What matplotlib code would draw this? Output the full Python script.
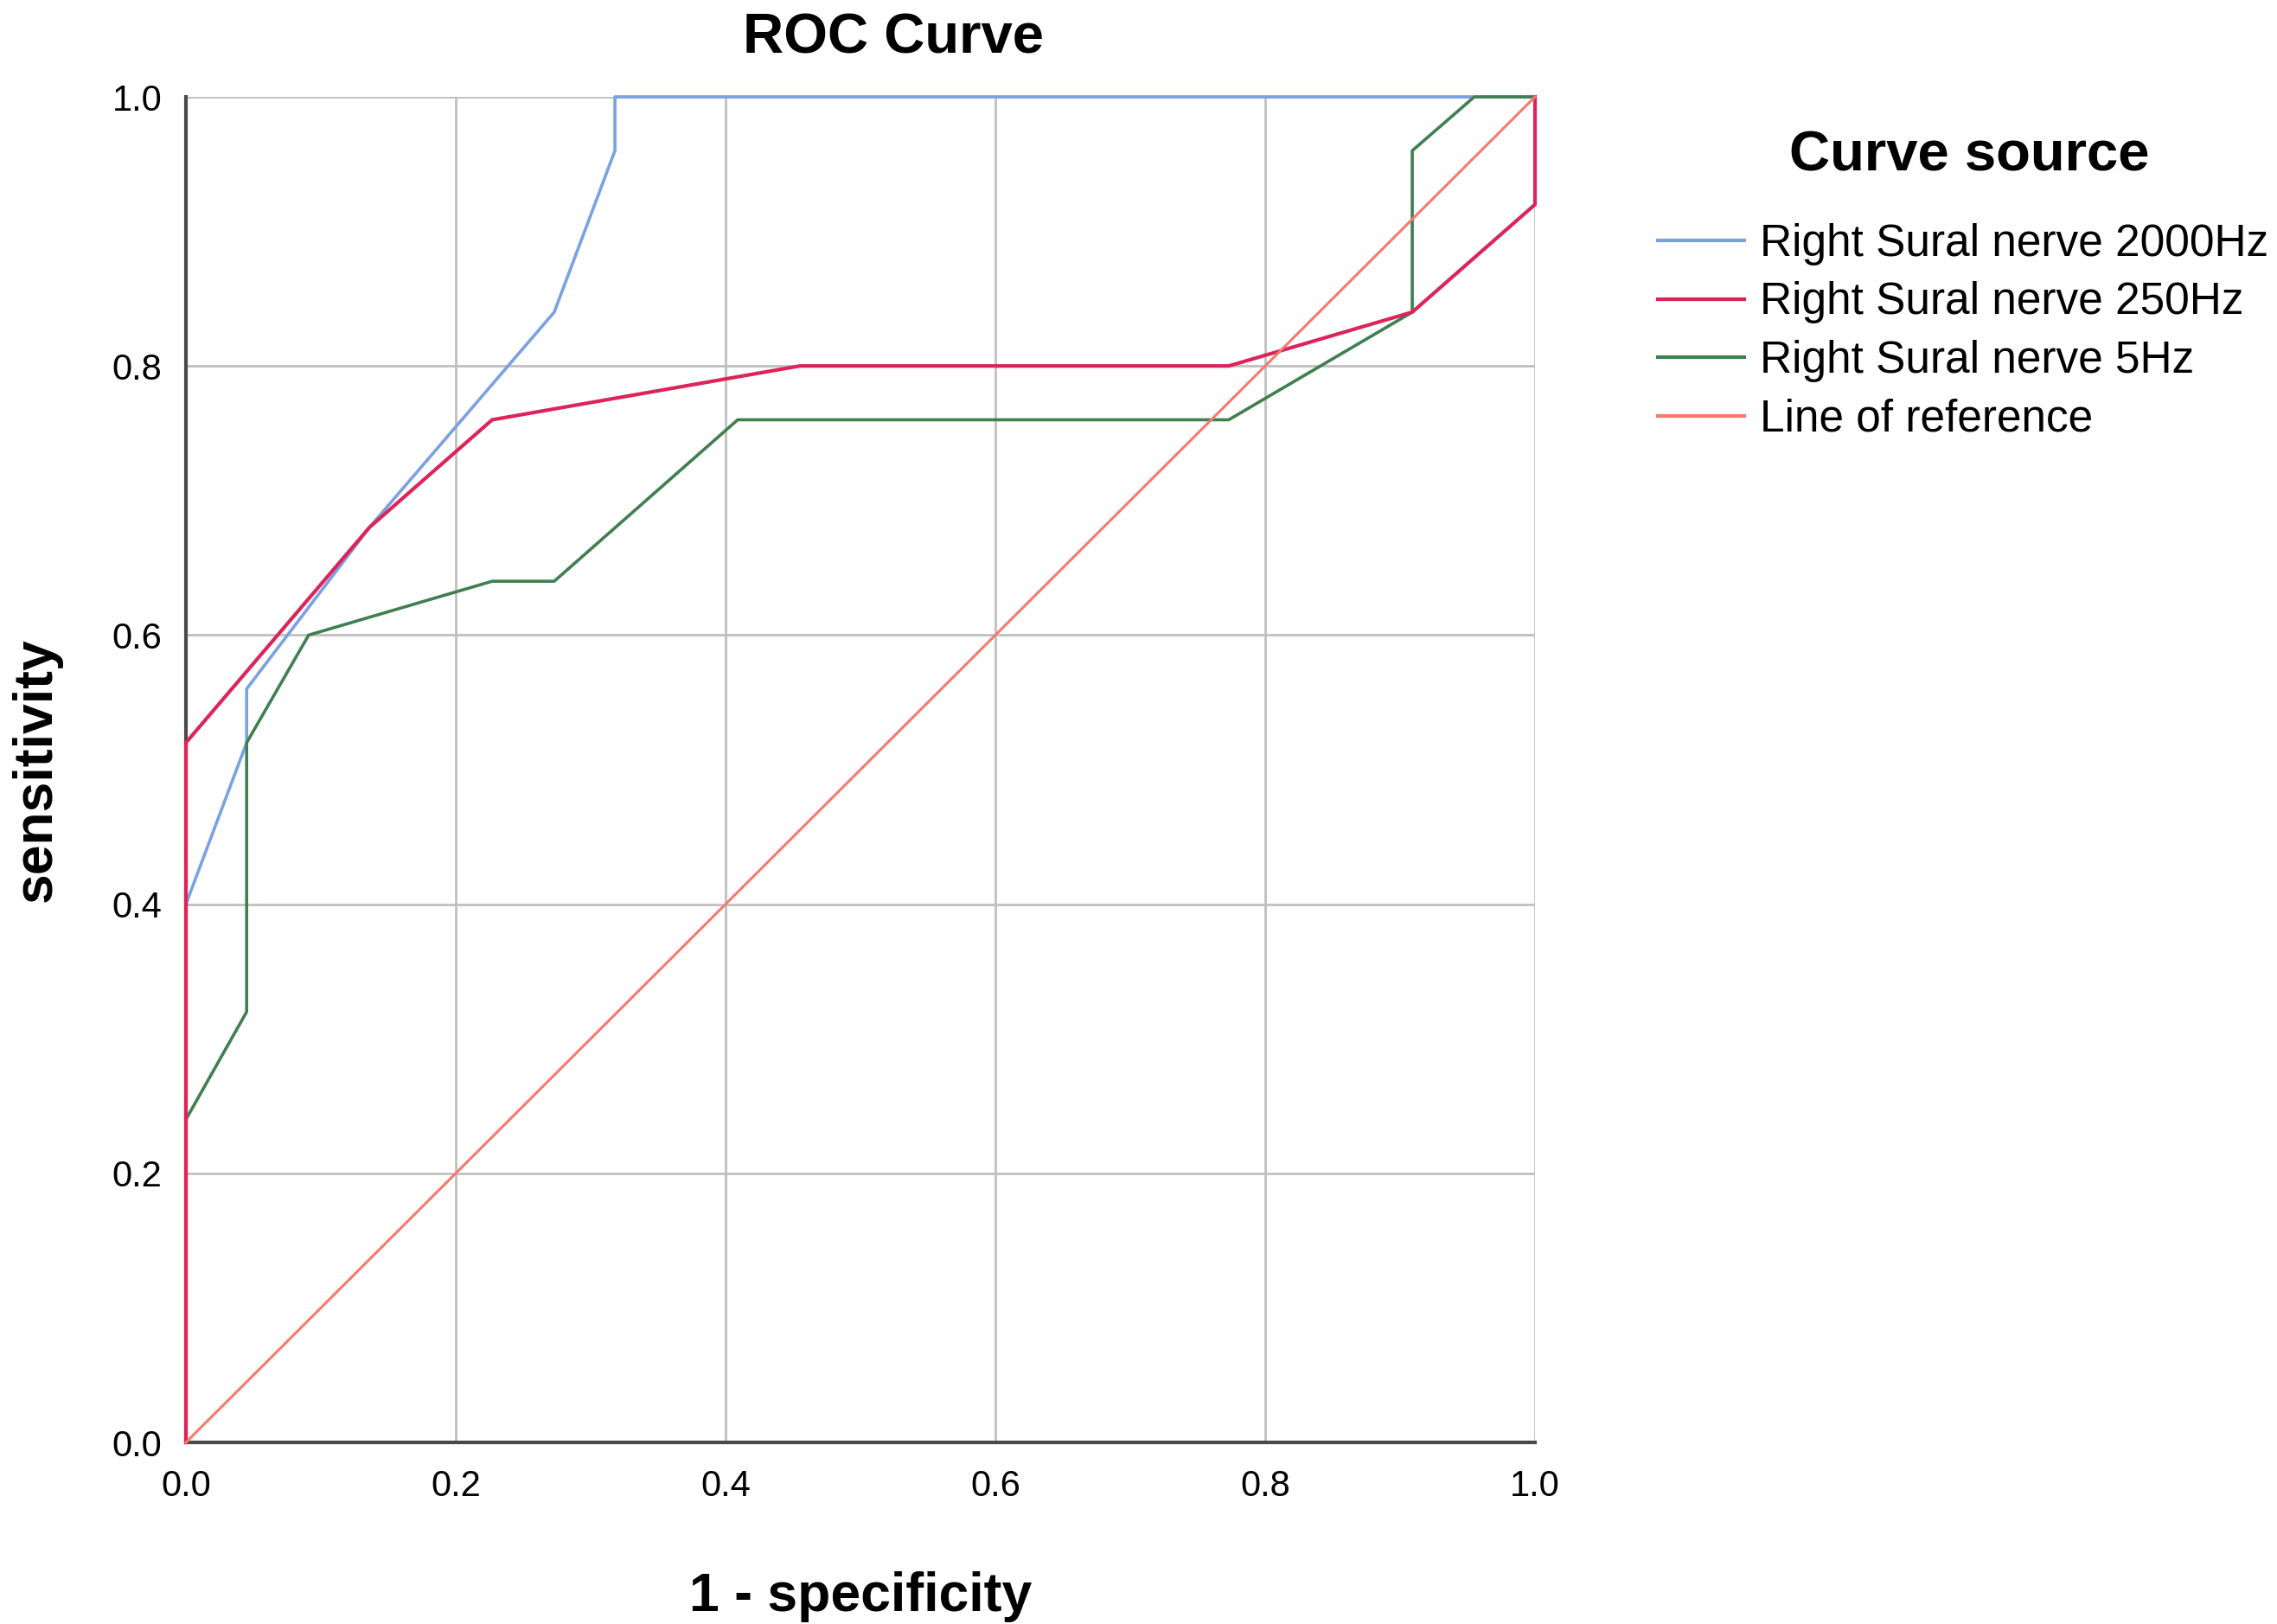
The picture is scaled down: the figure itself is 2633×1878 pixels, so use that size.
import matplotlib
matplotlib.use("Agg")
import matplotlib.pyplot as plt

plt.rcParams['font.family'] = ['Liberation Sans', 'DejaVu Sans']

# ---- data ----
fpr_2000 = [0.0, 0.0, 0.045, 0.045, 0.136, 0.273, 0.318, 0.318, 1.0]
tpr_2000 = [0.0, 0.40, 0.52, 0.56, 0.68, 0.84, 0.96, 1.0, 1.0]

fpr_250 = [0.0, 0.0, 0.136, 0.227, 0.455, 0.773, 0.909, 1.0, 1.0]
tpr_250 = [0.0, 0.52, 0.68, 0.76, 0.80, 0.80, 0.84, 0.92, 1.0]

fpr_5 = [0.0, 0.0, 0.045, 0.045, 0.091, 0.227, 0.273, 0.409, 0.773, 0.909, 0.909, 0.955, 1.0]
tpr_5 = [0.0, 0.24, 0.32, 0.52, 0.60, 0.64, 0.64, 0.76, 0.76, 0.84, 0.96, 1.0, 1.0]

ref_x = [0.0, 1.0]
ref_y = [0.0, 1.0]

labels = ["Right Sural nerve 2000Hz", "Right Sural nerve 250Hz",
          "Right Sural nerve 5Hz", "Line of reference"]
ticks = [0.0, 0.2, 0.4, 0.6, 0.8, 1.0]
tick_labels = ["0.0", "0.2", "0.4", "0.6", "0.8", "1.0"]

W, H = 2633, 1878
fig = plt.figure(figsize=(W / 100, H / 100), dpi=100)
ax = fig.add_axes([215 / W, 1 - 1668 / H, (1775 - 215) / W, (1668 - 112) / H])

ax.set_xlim(0, 1)
ax.set_ylim(0, 1)
ax.set_xticks(ticks)
ax.set_yticks(ticks)
ax.set_xticklabels(tick_labels)
ax.set_yticklabels(tick_labels)
ax.tick_params(length=0, labelsize=30)
ax.tick_params(axis='x', pad=22)
ax.tick_params(axis='y', pad=20)
ax.grid(True, color='#c0c0c0', lw=2.0)
ax.set_axisbelow(True)
for s in ['top', 'right']:
    ax.spines[s].set_visible(False)
for s in ['left', 'bottom']:
    ax.spines[s].set_color('#4a4a4a')
    ax.spines[s].set_linewidth(3)
    ax.spines[s].set_zorder(1.5)

l1, = ax.plot(fpr_2000, tpr_2000, color='#7aa2e0', lw=2.6, clip_on=False, zorder=3)
l3, = ax.plot(fpr_5, tpr_5, color='#3f7f50', lw=2.6, clip_on=False, zorder=4)
l2, = ax.plot(fpr_250, tpr_250, color='#dc2459', lw=3.0, clip_on=False, zorder=5)
l4, = ax.plot(ref_x, ref_y, color='#f47a6e', lw=2.2, clip_on=False, zorder=6)

fig.text(1033 / W, 1 - 62 / H, "ROC Curve", fontsize=47, fontweight='bold',
         ha='center', va='baseline')
fig.text(995 / W, 1 - 1863 / H, "1 - specificity", fontsize=45, fontweight='bold',
         ha='center', va='baseline')
fig.text(42 / W, 1 - 890 / H, "sensitivity", fontsize=45, fontweight='bold',
         ha='center', va='center', rotation=90)
fig.text(2277 / W, 1 - 197 / H, "Curve source", fontsize=47, fontweight='bold',
         ha='center', va='baseline')

leg = fig.legend([l1, l2, l3, l4], labels, loc='upper left',
                 bbox_to_anchor=(1917 / W, 1 - 258 / H), frameon=False,
                 fontsize=37, handlelength=1.95, handletextpad=0.34,
                 labelspacing=0.36, borderpad=0, borderaxespad=0)
for h in leg.get_lines():
    h.set_linewidth(3)

fig.savefig("out.png", dpi=100)
